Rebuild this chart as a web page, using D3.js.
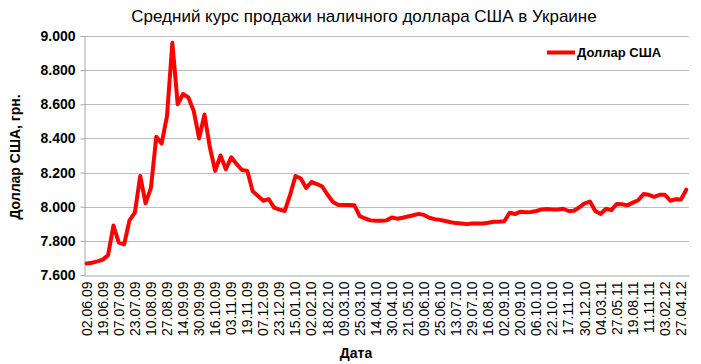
<!DOCTYPE html>
<html>
<head>
<meta charset="utf-8">
<script src="https://cdn.jsdelivr.net/npm/d3@7"></script>
<style>
  body { margin: 0; background: #fff; }
  text { font-family: "Liberation Sans", Arial, sans-serif; }
</style>
</head>
<body>
<svg id="chart" width="701" height="364"></svg>
<script>
// values, one per category (label every 3rd)
var values = [
	7.667, 7.672, 7.680, 7.690, 7.716, 7.890, 7.790, 7.780, 7.920, 7.965,
	8.180, 8.020, 8.110, 8.410, 8.370, 8.530, 8.960, 8.600, 8.660, 8.640,
	8.560, 8.400, 8.540, 8.350, 8.210, 8.300, 8.220, 8.290, 8.250, 8.215,
	8.210, 8.090, 8.063, 8.035, 8.045, 7.995, 7.983, 7.975, 8.070, 8.180,
	8.165, 8.110, 8.145, 8.133, 8.118, 8.070, 8.028, 8.010, 8.010, 8.010,
	8.008, 7.945, 7.931, 7.920, 7.918, 7.918, 7.920, 7.937, 7.930, 7.935,
	7.943, 7.950, 7.958, 7.952, 7.935, 7.927, 7.923, 7.916, 7.909, 7.904,
	7.901, 7.898, 7.902, 7.902, 7.902, 7.906, 7.912, 7.912, 7.915, 7.965,
	7.957, 7.971, 7.968, 7.969, 7.975, 7.984, 7.986, 7.984, 7.984, 7.988,
	7.975, 7.976, 7.996, 8.020, 8.030, 7.975, 7.958, 7.988, 7.980, 8.016,
	8.014, 8.008, 8.024, 8.038, 8.074, 8.070, 8.058, 8.070, 8.070, 8.035,
	8.044, 8.042, 8.100
];

var dateLabels = [
	"02.06.09", "19.06.09", "07.07.09", "23.07.09", "10.08.09", "27.08.09",
	"14.09.09", "30.09.09", "16.10.09", "03.11.09", "19.11.09", "07.12.09",
	"23.12.09", "15.01.10", "02.02.10", "18.02.10", "09.03.10", "25.03.10",
	"14.04.10", "30.04.10", "21.05.10", "09.06.10", "25.06.10", "13.07.10",
	"29.07.10", "16.08.10", "02.09.10", "20.09.10", "06.10.10", "22.10.10",
	"17.11.10", "30.12.10", "04.03.11", "27.05.11", "19.08.11", "11.11.11",
	"03.02.12", "27.04.12"
];
var labelEvery = 3;

var yTicks = [7.6, 7.8, 8.0, 8.2, 8.4, 8.6, 8.8, 9.0];

var title = "Средний курс продажи наличного доллара США в Украине",
	seriesName = "Доллар США",
	yTitle = "Доллар США, грн.",
	xTitle = "Дата";

var plotL = 84, plotR = 689, plotT = 36, plotB = 275;

var svg = d3.select("#chart");

var x = d3.scaleBand()
	.domain(d3.range(values.length))
	.range([plotL, plotR]);

var y = d3.scaleLinear()
	.domain([7.6, 9.0])
	.range([plotB, plotT]);

var fmt = d3.format(",.3f");

// grid
svg.append("g")
	.selectAll("line")
	.data(yTicks.slice(1))
	.join("line")
	.attr("x1", plotL).attr("x2", plotR)
	.attr("y1", function(d) { return Math.round(y(d)) + 0.5; })
	.attr("y2", function(d) { return Math.round(y(d)) + 0.5; })
	.attr("stroke", "#bdbdbd")
	.attr("stroke-width", 1);

// y axis
var yAxis = svg.append("g")
	.attr("transform", "translate(" + (plotL + 0.5) + ",0)")
	.call(d3.axisLeft(y).tickValues(yTicks).tickFormat(fmt).tickSize(4).tickPadding(5));
yAxis.select(".domain").attr("stroke", "#a6a6a6");
yAxis.selectAll(".tick line").attr("stroke", "#a6a6a6");
yAxis.selectAll(".tick text")
	.attr("font-size", 14)
	.attr("font-weight", "bold")
	.attr("font-family", "Liberation Sans, Arial, sans-serif")
	.attr("fill", "#000");

// x axis
var xAxis = svg.append("g")
	.attr("transform", "translate(0," + (plotB + 0.5) + ")")
	.call(d3.axisBottom(x)
		.tickValues(d3.range(0, values.length, labelEvery))
		.tickFormat(function(d) { return dateLabels[d / labelEvery]; })
		.tickSize(0)
		.tickPadding(0));
xAxis.select(".domain").attr("stroke", "#a6a6a6");
xAxis.selectAll(".tick text")
	.attr("font-size", 14)
	.attr("font-family", "Liberation Sans, Arial, sans-serif")
	.attr("fill", "#000")
	.attr("transform", "rotate(-90)")
	.attr("text-anchor", "end")
	.attr("x", -6)
	.attr("y", 0)
	.attr("dy", "0.35em");

// line
var line = d3.line()
	.x(function(d, i) { return x(i) + x.bandwidth() / 2; })
	.y(function(d) { return y(d); });

svg.append("path")
	.datum(values)
	.attr("d", line)
	.attr("fill", "none")
	.attr("stroke", "#ff0000")
	.attr("stroke-width", 4)
	.attr("stroke-linejoin", "round")
	.attr("stroke-linecap", "round");

// titles
svg.append("text")
	.attr("x", 364).attr("y", 22)
	.attr("text-anchor", "middle")
	.attr("font-size", 17)
	.text(title);

svg.append("text")
	.attr("transform", "translate(20,157) rotate(-90)")
	.attr("text-anchor", "middle")
	.attr("font-size", 14)
	.attr("font-weight", "bold")
	.text(yTitle);

svg.append("text")
	.attr("x", 356).attr("y", 358)
	.attr("text-anchor", "middle")
	.attr("font-size", 14)
	.attr("font-weight", "bold")
	.text(xTitle);

// legend
var legend = svg.append("g");
legend.append("line")
	.attr("x1", 547).attr("x2", 575)
	.attr("y1", 52.5).attr("y2", 52.5)
	.attr("stroke", "#ff0000")
	.attr("stroke-width", 4);
legend.append("text")
	.attr("x", 577).attr("y", 57)
	.attr("font-size", 13)
	.attr("font-weight", "bold")
	.text(seriesName);
</script>
</body>
</html>
